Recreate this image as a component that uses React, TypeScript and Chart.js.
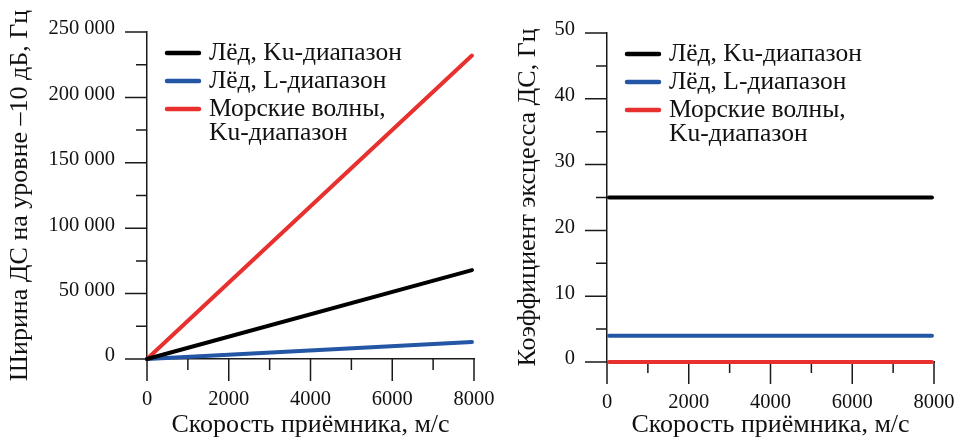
import React, { useEffect, useRef } from "react";
import { Chart, registerables } from "chart.js";

Chart.register(...registerables);

// ---- Data ----
const speedWidth = [0, 7950];
const widthIceKu = [0, 68000];
const widthIceL = [0, 13000];
const widthSeaKu = [0, 232000];

const speedKurt = [50, 7950];
const kurtIceKu = [25, 25];
const kurtIceL = [4, 4];
const kurtSeaKu = [0, 0];

const seriesLabels: (string | string[])[] = [
  "Лёд, Ku-диапазон",
  "Лёд, L-диапазон",
  ["Морские волны,", "Ku-диапазон"],
];
const seriesColors = ["#000000", "#2456a6", "#e8312f"];

const xTitle = "Скорость приёмника, м/с";
const yTitleLeft = "Ширина ДС на уровне –10 дБ, Гц";
const yTitleRight = "Коэффициент эксцесса ДС, Гц";

const FONT = "'Liberation Serif', 'Times New Roman', serif";
const AXIS_COLOR = "#1a1a1a";

const formatThousands = (v: number) =>
  String(v).replace(/\B(?=(\d{3})+(?!\d))/g, " ");

// Plugin: outward major/minor ticks
const ticksPlugin = {
  id: "outTicks",
  beforeDatasetsDraw(chart: any, _args: any, opts: any) {
    const { ctx } = chart;
    const xs = chart.scales.x;
    const ys = chart.scales.y;
    const area = chart.chartArea;
    ctx.save();
    ctx.strokeStyle = AXIS_COLOR;
    ctx.lineWidth = 1.5;
    ctx.beginPath();
    for (let v = ys.min; v <= ys.max + 1e-9; v += opts.yMinor) {
      const y = ys.getPixelForValue(v);
      const major = Math.abs(v / opts.yMajor - Math.round(v / opts.yMajor)) < 1e-6;
      const len = major ? 22 : 11;
      ctx.moveTo(area.left - len, y);
      ctx.lineTo(area.left, y);
    }
    for (let v = xs.min; v <= xs.max + 1e-9; v += opts.xMinor) {
      const x = xs.getPixelForValue(v);
      const major = Math.abs(v / opts.xMajor - Math.round(v / opts.xMajor)) < 1e-6;
      const len = major ? 22 : 11;
      ctx.moveTo(x, area.bottom);
      ctx.lineTo(x, area.bottom + len);
    }
    ctx.stroke();
    ctx.restore();
  },
};

// Plugin: legend inside plot area with multi-line labels
const legendPlugin = {
  id: "innerLegend",
  afterDatasetsDraw(chart: any, _args: any, opts: any) {
    const { ctx } = chart;
    const area = chart.chartArea;
    const rows: number[] = opts.rows;
    ctx.save();
    ctx.font = `${opts.fontSize}px ${FONT}`;
    ctx.textBaseline = "middle";
    ctx.textAlign = "left";
    chart.data.datasets.forEach((ds: any, i: number) => {
      const y = area.top + rows[i];
      ctx.strokeStyle = ds.borderColor;
      ctx.lineWidth = 4.5;
      ctx.lineCap = "round";
      ctx.beginPath();
      ctx.moveTo(area.left + opts.lineStart, y);
      ctx.lineTo(area.left + opts.lineEnd, y);
      ctx.stroke();
      ctx.fillStyle = "#111";
      const lines = Array.isArray(ds.label) ? ds.label : [ds.label];
      lines.forEach((t: string, j: number) => {
        ctx.fillText(t, area.left + opts.textStart, y + j * opts.lineGap);
      });
    });
    ctx.restore();
  },
};

type PanelProps = {
  width: number;
  left: number;
  xData: number[];
  series: number[][];
  yMax: number;
  yMajor: number;
  yMinor: number;
  yTitle: string;
  yFormat: (v: number) => string;
  target: { top: number; right: number };
  yAxisWidth: number;
  xAxisHeight: number;
  yTitlePad: number;
};

function Panel(p: PanelProps) {
  const ref = useRef<HTMLCanvasElement | null>(null);
  useEffect(() => {
    if (!ref.current) return;
    const padding = { top: p.target.top, right: p.width - p.target.right, left: 0, bottom: 0 };
    const chart = new Chart(ref.current, {
      type: "line",
      data: {
        datasets: p.series.map((s, i) => ({
          label: seriesLabels[i] as any,
          data: s.map((v, k) => ({ x: p.xData[k], y: v })),
          borderColor: seriesColors[i],
          backgroundColor: seriesColors[i],
          borderWidth: 4,
          borderCapStyle: "round",
          pointRadius: 0,
          tension: 0,
          clip: false as any,
        })),
      },
      options: {
        responsive: false,
        animation: false,
        layout: { padding },
        plugins: {
          legend: { display: false },
          tooltip: { enabled: false },
          outTicks: { yMajor: p.yMajor, yMinor: p.yMinor, xMajor: 2000, xMinor: 1000 },
          innerLegend: {
            rows: [21, 49, 77],
            lineStart: 20,
            lineEnd: 52,
            textStart: 62,
            lineGap: 24,
            fontSize: 25.5,
          },
        } as any,
        scales: {
          x: {
            type: "linear",
            min: 0,
            max: 8000,
            afterFit: (s: any) => {
              s.height = p.xAxisHeight;
              s.paddingLeft = 0;
              s.paddingRight = 0;
            },
            grid: { display: false, drawTicks: false },
            border: { display: true, color: AXIS_COLOR, width: 1.5 },
            ticks: {
              stepSize: 2000,
              padding: 28,
              color: "#111",
              font: { family: FONT, size: 20.5 },
              maxRotation: 0,
              callback: (v: any) => String(v),
            },
            title: {
              display: true,
              text: xTitle,
              color: "#111",
              font: { family: FONT, size: 26, lineHeight: 1 },
              padding: 0,
            },
          },
          y: {
            type: "linear",
            min: 0,
            max: p.yMax,
            afterFit: (s: any) => {
              s.width = p.yAxisWidth;
              s.paddingTop = 0;
              s.paddingBottom = 0;
            },
            grid: { display: false, drawTicks: false },
            border: { display: true, color: AXIS_COLOR, width: 1.5 },
            ticks: {
              stepSize: p.yMajor,
              padding: 32,
              labelOffset: -3,
              color: "#111",
              font: { family: FONT, size: 20.5 },
              callback: (v: any) => p.yFormat(Number(v)),
            },
            title: {
              display: true,
              text: p.yTitle,
              color: "#111",
              font: { family: FONT, size: 26, lineHeight: 1 },
              padding: { top: p.yTitlePad, bottom: 0 },
            },
          },
        },
      },
      plugins: [ticksPlugin, legendPlugin],
    });
    return () => chart.destroy();
  }, []);
  return (
    <canvas
      ref={ref}
      width={p.width}
      height={438}
      style={{ position: "absolute", left: p.left, top: 0, width: p.width, height: 438 }}
    />
  );
}

export default function App() {
  return (
    <div
      style={{
        position: "absolute",
        left: 0,
        top: 0,
        width: 955,
        height: 438,
        background: "#fff",
        overflow: "hidden",
      }}
    >
      <Panel
        width={510}
        left={0}
        xData={speedWidth}
        series={[widthIceKu, widthIceL, widthSeaKu]}
        yMax={250000}
        yMajor={50000}
        yMinor={25000}
        yTitle={yTitleLeft}
        yFormat={formatThousands}
        target={{ top: 32, right: 474 }}
        yAxisWidth={147}
        xAxisHeight={79}
        yTitlePad={7}
      />
      <Panel
        width={475}
        left={480}
        xData={speedKurt}
        series={[kurtIceKu, kurtIceL, kurtSeaKu]}
        yMax={50}
        yMajor={10}
        yMinor={5}
        yTitle={yTitleRight}
        yFormat={(v) => String(v)}
        target={{ top: 33, right: 454 }}
        yAxisWidth={127}
        xAxisHeight={76}
        yTitlePad={35}
      />
    </div>
  );
}
